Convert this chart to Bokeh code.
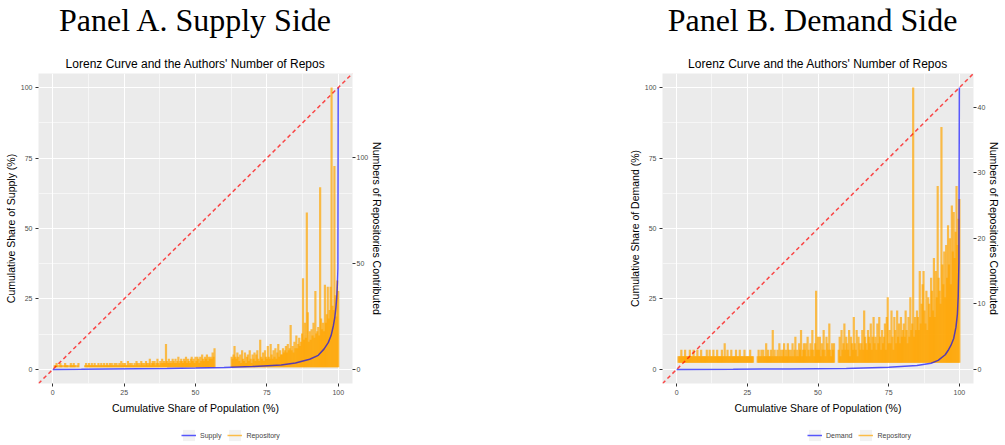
from bokeh.plotting import figure
from bokeh.models import (Range1d, LinearAxis, FixedTicker, Slope, Legend, LegendItem,
                          Title, ColumnDataSource, Spacer, Div)
from bokeh.layouts import row, column
from bokeh.embed import file_html
from bokeh.resources import INLINE

# Lorenz curves: cumulative share of population (%) vs cumulative share (%)
supply_pop = [0, 10, 20, 30, 40, 50, 60, 70, 80, 85, 90, 93, 95, 96.5, 97.5, 98.3, 98.8, 99.2, 99.5, 99.75, 99.9, 100]
supply_share = [0, 0.05, 0.15, 0.25, 0.35, 0.5, 0.7, 1.0, 1.6, 2.3, 3.6, 5.0, 7.2, 9.5, 12, 15.5, 18.5, 22, 26, 31, 36, 100]

demand_pop = [0, 20, 40, 60, 75, 85, 90, 92.5, 95, 96, 97, 98, 98.8, 99.3, 99.6, 99.85, 100]
demand_share = [0, 0.05, 0.15, 0.35, 0.8, 1.4, 2.2, 3.2, 5.2, 6.7, 8.5, 11, 15, 19.5, 26, 38, 100]

# Repositories contributed per author, ordered along the population axis
# (15 authors per 5% band of the population)
repos_supply = [
    1, 2, 2, 3, 2, 1, 2, 3, 2, 2, 1, 2, 3, 2, 2,
    2, 1, 2, 3, 2, 2, 3, 2, 2, 1, 2, 3, 1, 1, 1,
    1, 1, 1, 2, 3, 2, 2, 3, 2, 2, 3, 2, 2, 3, 2,
    2, 2, 3, 2, 2, 3, 2, 2, 3, 2, 2, 3, 2, 2, 3,
    2, 3, 2, 2, 3, 2, 3, 2, 2, 3, 2, 4, 2, 3, 2,
    3, 2, 2, 4, 2, 3, 2, 3, 2, 2, 3, 2, 4, 3, 2,
    3, 2, 4, 3, 2, 3, 2, 4, 3, 2, 3, 5, 2, 3, 4,
    3, 4, 2, 3, 5, 3, 2, 4, 3, 5, 3, 4, 3, 12, 4,
    3, 5, 3, 4, 3, 5, 4, 3, 5, 3, 4, 6, 3, 4, 5,
    4, 3, 5, 4, 6, 3, 5, 4, 3, 5, 6, 4, 5, 3, 6,
    4, 6, 5, 3, 6, 4, 7, 5, 4, 6, 5, 7, 4, 6, 5,
    6, 5, 8, 6, 10, 1, 1, 1, 1, 1, 1, 1, 1, 1, 1,
    1, 1, 1, 1, 1, 1, 1, 6, 5, 7, 11, 6, 5, 8, 6,
    4, 7, 3, 9, 5, 4, 8, 3, 6, 7, 4, 9, 5, 3, 7,
    5, 8, 4, 7, 9, 5, 4, 14, 6, 5, 8, 4, 9, 6, 5,
    11, 6, 5, 12, 7, 5, 9, 6, 10, 5, 8, 12, 6, 9, 7,
    7, 10, 8, 9, 11, 8, 12, 9, 10, 21, 9, 11, 8, 13, 10,
    16, 10, 12, 15, 11, 13, 17, 43, 14, 22, 15, 74, 27, 13, 18,
    14, 19, 16, 22, 15, 37, 17, 18, 20, 16, 86, 24, 19, 22, 18,
    40, 22, 26, 39, 24, 28, 39, 133, 30, 28, 96, 35, 25, 42, 37,
]

repos_demand = [
    1, 2, 2, 2, 3, 2, 2, 2, 3, 2, 2, 2, 2, 3, 2,
    2, 2, 3, 2, 2, 2, 3, 2, 2, 2, 3, 2, 2, 2, 2,
    2, 3, 2, 2, 3, 2, 2, 2, 3, 2, 2, 2, 3, 2, 2,
    2, 2, 3, 2, 2, 4, 2, 2, 3, 2, 2, 2, 3, 2, 2,
    2, 2, 3, 2, 2, 2, 3, 2, 2, 2, 2, 3, 2, 2, 2,
    2, 2, 3, 2, 2, 2, 1, 1, 1, 1, 2, 3, 2, 2, 3,
    2, 3, 2, 2, 4, 2, 3, 2, 2, 3, 2, 6, 2, 3, 2,
    2, 3, 2, 4, 2, 3, 2, 3, 4, 2, 3, 2, 4, 3, 2,
    3, 2, 4, 2, 3, 5, 2, 3, 2, 4, 3, 6, 2, 3, 4,
    3, 4, 2, 5, 3, 2, 4, 3, 6, 3, 2, 4, 12, 3, 5,
    3, 5, 2, 4, 3, 6, 3, 2, 5, 4, 3, 7, 3, 2, 4,
    3, 4, 1, 1, 1, 1, 3, 5, 2, 6, 3, 4, 7, 3, 5,
    4, 3, 6, 2, 5, 4, 3, 8, 4, 3, 6, 2, 5, 4, 3,
    4, 6, 3, 9, 5, 4, 3, 6, 5, 4, 7, 3, 5, 8, 4,
    5, 3, 7, 4, 8, 5, 3, 6, 4, 5, 7, 3, 8, 11, 4,
    6, 4, 9, 5, 3, 8, 6, 4, 9, 5, 7, 4, 8, 5, 6,
    7, 5, 9, 6, 4, 8, 5, 11, 6, 7, 43, 5, 8, 6, 9,
    8, 6, 15, 7, 10, 13, 15, 9, 7, 12, 6, 11, 10, 8, 14,
    12, 9, 17, 8, 15, 11, 28, 14, 12, 10, 37, 16, 13, 18, 11,
    19, 14, 22, 16, 20, 13, 25, 18, 24, 17, 21, 28, 19, 23, 26,
]

share_ticks = [0, 25, 50, 75, 100]
share_minor = [12.5, 37.5, 62.5, 87.5]
repo_ticks_supply = [0, 50, 100]
repo_ticks_demand = [0, 10, 20, 30, 40]

SANS = "Liberation Sans"
SERIF = "Liberation Serif"
ORANGE = "#FFA500"
HEAD_H = 40
LEGEND_H = 20
NAN = float("nan")


def style_axis(ax, tick_standoff, label_standoff):
    ax.axis_line_color = None
    ax.major_tick_line_color = "#333333"
    ax.major_tick_out = 3
    ax.major_tick_in = 0
    ax.minor_tick_line_color = None
    ax.major_label_text_font = SANS
    ax.major_label_text_font_size = "7px"
    ax.major_label_text_color = "#4D4D4D"
    ax.major_label_standoff = tick_standoff
    ax.axis_label_text_font = SANS
    ax.axis_label_text_font_size = "10.5px"
    ax.axis_label_text_font_style = "normal"
    ax.axis_label_text_color = "black"
    ax.axis_label_standoff = label_standoff


def legend_strip(total_w, curve_label, legend_x):
    """Separate strip under the panel carrying the legend keys."""
    lf = figure(width=total_w, height=LEGEND_H, min_border=0,
                x_range=Range1d(0, 1), y_range=Range1d(0, 1),
                x_axis_type=None, y_axis_type=None,
                output_backend="svg", toolbar_location=None,
                background_fill_color="white", border_fill_color="white",
                outline_line_color=None)
    lf.grid.visible = False
    key_bg = lf.rect(x=[NAN], y=[NAN], width=0, height=0, fill_color="#F2F2F2",
                     line_alpha=0)
    curve_key = lf.line(x=[NAN], y=[NAN], line_color="blue", line_alpha=0.65,
                        line_width=1.5)
    repo_key = lf.line(x=[NAN], y=[NAN], line_color=ORANGE, line_alpha=0.7,
                       line_width=1.5)
    legend = Legend(items=[LegendItem(label=curve_label, renderers=[key_bg, curve_key]),
                           LegendItem(label="Repository", renderers=[key_bg, repo_key])],
                    orientation="horizontal", location=(legend_x, 1),
                    label_text_font=SANS, label_text_font_size="7px",
                    glyph_width=15, glyph_height=14, label_height=12,
                    label_standoff=4, spacing=6, padding=2, margin=0,
                    border_line_alpha=0, background_fill_alpha=0)
    lf.add_layout(legend, "center")
    return lf


def lorenz_panel(heading, ylabel, curve_label, pop, share, repos, repo_ticks,
                 border_left, frame_w, border_right, legend_x):
    n = len(repos)
    rank_share = [(i + 1) * 100.0 / n for i in range(n)]
    top = max(repos)
    base = min(repos)
    total_w = border_left + frame_w + border_right

    p = figure(frame_width=frame_w, frame_height=310,
               x_range=Range1d(-5, 105), y_range=Range1d(-5, 105),
               output_backend="svg", toolbar_location=None, title=None,
               min_border_left=border_left, min_border_right=border_right,
               min_border_top=73 - HEAD_H, min_border_bottom=42,
               background_fill_color="#EBEBEB", border_fill_color="white",
               outline_line_color=None)
    # secondary scale: the largest contributor count sits at 100 on the left axis
    p.extra_y_ranges = {"repos": Range1d(-0.05 * top, 1.05 * top)}

    src = ColumnDataSource(dict(x=rank_share, y0=[base] * n, y1=repos))
    p.segment(x0="x", y0="y0", x1="x", y1="y1", source=src,
              y_range_name="repos", line_color=ORANGE,
              line_alpha=0.7, line_width=2.2)
    p.line(pop, share, line_color="blue", line_alpha=0.65, line_width=1.5)
    p.add_layout(Slope(gradient=1, y_intercept=0, line_color="red", line_alpha=0.7,
                       line_dash="4 3", line_width=1.5))

    p.xaxis.ticker = FixedTicker(ticks=share_ticks, minor_ticks=share_minor)
    p.yaxis.ticker = FixedTicker(ticks=share_ticks, minor_ticks=share_minor)
    p.xaxis.axis_label = "Cumulative Share of Population (%)"
    p.yaxis.axis_label = ylabel
    for g in (p.xgrid, p.ygrid):
        g.grid_line_color = "white"
        g.grid_line_width = 1.1
        g.minor_grid_line_color = "white"
        g.minor_grid_line_width = 0.55

    right = LinearAxis(y_range_name="repos", ticker=FixedTicker(ticks=repo_ticks),
                       axis_label="Numbers of Repositories Contributed")
    p.add_layout(right, "right")
    style_axis(p.xaxis[0], 2, 4)
    style_axis(p.yaxis[0], 2, 1)
    style_axis(right, 1, 0)

    p.add_layout(Title(text="Lorenz Curve and the Authors' Number of Repos", align="center",
                       text_font=SANS, text_font_size="12px", text_font_style="normal",
                       text_color="black", standoff=5), "above")

    head = Div(text=(f'<div style="width:{total_w}px;text-align:center;'
                     f"font-family:'{SERIF}';font-size:32px;line-height:{HEAD_H}px;"
                     f'color:black;margin:0;padding:0">{heading}</div>'),
               width=total_w, height=HEAD_H, margin=0)
    return column(head, p, legend_strip(total_w, curve_label, legend_x), spacing=0)


pa = lorenz_panel("Panel A. Supply Side", "Cumulative Share of Supply (%)", "Supply",
                  supply_pop, supply_share, repos_supply, repo_ticks_supply, 38, 314, 38, 141)
pb = lorenz_panel("Panel B. Demand Side", "Cumulative Share of Demand (%)", "Demand",
                  demand_pop, demand_share, repos_demand, repo_ticks_demand, 42, 311, 32, 143)

layout = row(pa, Spacer(width=230, height=10), pb)
open("out.html", "w").write(file_html(layout, INLINE))
